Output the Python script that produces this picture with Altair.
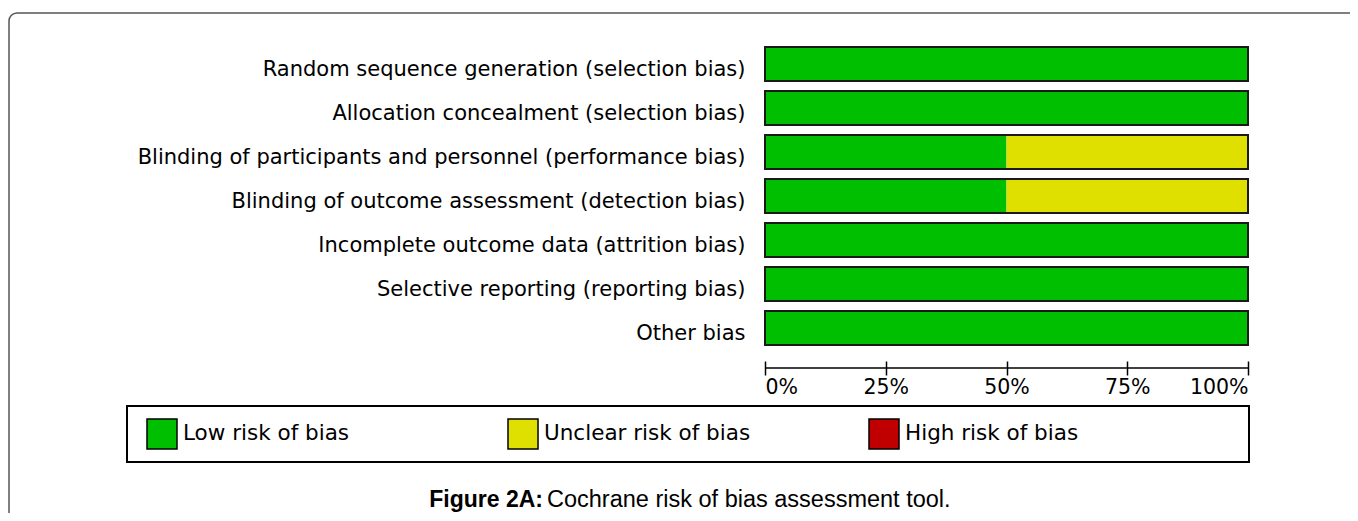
import altair as alt
import pandas as pd

domains = [
    "Random sequence generation (selection bias)",
    "Allocation concealment (selection bias)",
    "Blinding of participants and personnel (performance bias)",
    "Blinding of outcome assessment (detection bias)",
    "Incomplete outcome data (attrition bias)",
    "Selective reporting (reporting bias)",
    "Other bias",
]
risks = ["Low risk of bias", "Unclear risk of bias", "High risk of bias"]
risk_colors = ["#00bf00", "#e0e000", "#c00000"]
low = [100, 100, 50, 50, 100, 100, 100]
unclear = [0, 0, 50, 50, 0, 0, 0]
high = [0, 0, 0, 0, 0, 0, 0]
tick_values = [0, 25, 50, 75, 100]
caption_bold = "Figure 2A:"
caption_text = "Cochrane risk of bias assessment tool."

rows = []
for i, d in enumerate(domains):
    for j, (r, vals) in enumerate(zip(risks, [low, unclear, high])):
        rows.append({"domain": d, "risk": r, "order": j, "value": vals[i]})
df = pd.DataFrame(rows)

W, H = 483, 308
FONT = "DejaVu Sans"

y_enc = alt.Y(
    "domain:N",
    sort=domains,
    scale=alt.Scale(paddingInner=10 / 44, paddingOuter=5 / 44),
    axis=alt.Axis(
        title=None, ticks=False, domain=False, labelPadding=20,
        labelFont=FONT, labelFontSize=21, labelColor="#000",
        labelLimit=900, labelBaseline="alphabetic", labelOffset=12,
    ),
)

bars = alt.Chart(df).mark_bar(strokeWidth=0).encode(
    x=alt.X(
        "value:Q",
        stack="zero",
        scale=alt.Scale(domain=[0, 100], nice=False),
        axis=alt.Axis(
            title=None, values=tick_values, labelExpr="datum.value + '%'",
            domain=False, grid=False, offset=11, tickSize=14, tickWidth=1.5,
            tickColor="#000", labelFlush=True, labelFont=FONT, labelFontSize=20.5,
            labelColor="#000", labelPadding=2,
        ),
    ),
    y=y_enc,
    color=alt.Color(
        "risk:N",
        scale=alt.Scale(domain=risks, range=risk_colors),
        sort=risks,
        legend=alt.Legend(
            title=None, orient="none", legendX=-619, legendY=376,
            direction="horizontal", columns=3, gridAlign="all",
            columnPadding=115, symbolType="square", symbolSize=900,
            symbolStrokeColor="#000", symbolStrokeWidth=1.5, symbolOpacity=1,
            labelFont=FONT, labelFontSize=21.5, labelColor="#000", labelOffset=5,
            padding=0, labelLimit=400,
        ),
    ),
    order=alt.Order("order:Q"),
)

outline = alt.Chart(df).transform_aggregate(
    total="sum(value)", groupby=["domain"]
).mark_bar(fillOpacity=0, stroke="#1a1a1a", strokeWidth=2).encode(
    x=alt.X("total:Q"),
    y=y_enc,
)

axis_line = alt.Chart(alt.Data(values=[{}])).mark_rule(
    color="#000", strokeWidth=1.5
).encode(
    x=alt.X(datum=0),
    x2=alt.X2(datum=100),
    y=alt.value(326),
)

legend_box = alt.Chart(alt.Data(values=[{}])).mark_rect(
    fillOpacity=0, stroke="#000", strokeWidth=2
).encode(
    x=alt.value(-638), x2=alt.value(484), y=alt.value(364), y2=alt.value(420)
)

frame = alt.Chart(alt.Data(values=[{}])).mark_rect(
    fillOpacity=0, stroke="#555", strokeWidth=1.5, cornerRadius=8
).encode(
    x=alt.value(-756), x2=alt.value(700), y=alt.value(-29), y2=alt.value(600)
)

cap1 = alt.Chart(alt.Data(values=[{"t": caption_bold}])).mark_text(
    align="right", baseline="alphabetic", font="Liberation Sans",
    fontSize=23, fontWeight="bold", color="#000"
).encode(text="t:N", x=alt.value(-222), y=alt.value(465))

cap2 = alt.Chart(alt.Data(values=[{"t": caption_text}])).mark_text(
    align="left", baseline="alphabetic", font="Liberation Sans",
    fontSize=23.5, color="#000"
).encode(text="t:N", x=alt.value(-218), y=alt.value(465))

chart = alt.layer(frame, bars, outline, axis_line, legend_box, cap1, cap2).properties(
    width=W, height=H,
    autosize=alt.AutoSizeParams(type="none"),
    padding={"left": 757, "top": 34, "right": 102, "bottom": 163},
).configure_view(stroke=None)

chart.save("out.html", embed_options={"renderer": "svg", "actions": False})
